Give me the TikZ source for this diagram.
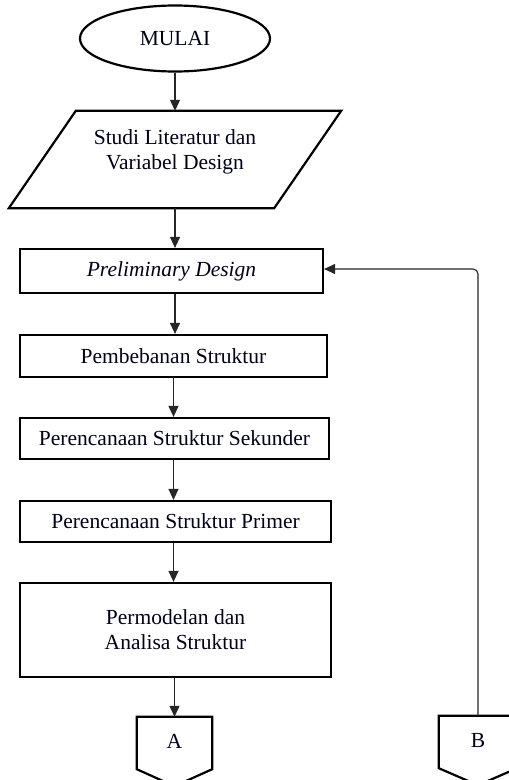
\documentclass[tikz,border=0pt]{standalone}
\usepackage{fontspec}
\setmainfont{Liberation Serif}
\usetikzlibrary{shapes.geometric,arrows.meta,calc}
\begin{document}
\begin{tikzpicture}[x=1pt,y=-1pt,
  txt/.style={font=\fontsize{21.5}{25}\selectfont, text=black!90!blue, align=center},
  shapeline/.style={draw=black, line width=2.2pt},
  procbox/.style={txt, shapeline, rectangle, inner sep=0pt},
  arr/.style={draw=black!85, line width=1.1pt, -{Triangle[length=11pt,width=10pt]}},
  connbody/.style={txt, rectangle, inner sep=0pt, minimum width=76pt, minimum height=52pt}]
\clip (0,0) rectangle (509,780);
\useasboundingbox (0,0) rectangle (509,780);
\fill[white] (0,0) rectangle (509,780);

\node[txt, shapeline, ellipse, minimum width=190pt, minimum height=66pt, inner sep=0pt] (start) at (175,38.5) {MULAI};
\node[rectangle, inner sep=0pt, minimum width=265pt, minimum height=97pt] (lit) at (175,159.5) {};
\draw[shapeline] ($(lit.north west)+(33.5,0)$) -- ($(lit.north east)+(33.5,0)$)
   -- ($(lit.south east)+(-33.5,0)$) -- ($(lit.south west)+(-33.5,0)$) -- cycle;
\node[txt] (littext) at (175,152) {Studi Literatur dan\\Variabel Design};
\node[procbox, minimum width=303pt, minimum height=44pt] (pre) at (171.5,271) {\itshape Preliminary Design};
\node[procbox, minimum width=307pt, minimum height=42pt] (beban) at (173.5,356) {Pembebanan Struktur};
\node[procbox, minimum width=309pt, minimum height=41pt] (sek) at (174.5,438.5) {Perencanaan Struktur Sekunder};
\node[procbox, minimum width=311pt, minimum height=41pt] (prim) at (175.5,521.5) {Perencanaan Struktur Primer};
\node[procbox, minimum width=311pt, minimum height=94pt] (model) at (175.5,630) {Permodelan dan\\Analisa Struktur};

\node[connbody, minimum width=75pt] (A) at (174.5,743) {\raisebox{4pt}{A}};
\draw[shapeline] (A.north west) -- (A.north east) -- (A.south east) -- ($(A.south)+(0,17)$) -- (A.south west) -- cycle;
\node[connbody, minimum width=78pt] (B) at (478,742) {\raisebox{4pt}{B}};
\draw[shapeline] (B.north west) -- (B.north east) -- (B.south east) -- ($(B.south)+(0,17)$) -- (B.south west) -- cycle;

\draw[arr] (start.south) -- (start.south |- lit.north);
\draw[arr] (start.south |- lit.south) -- (start.south |- pre.north);
\draw[arr] (start.south |- pre.south) -- (start.south |- beban.north);
\draw[arr] (beban.south) -- (beban.south |- sek.north);
\draw[arr] (beban.south |- sek.south) -- (beban.south |- prim.north);
\draw[arr] (beban.south |- prim.south) -- (beban.south |- model.north);
\draw[arr] (A.north |- model.south) -- (A.north);
\draw[arr, rounded corners=5pt] (B.north) |- ($(pre.east)+(0,-2)$);
\end{tikzpicture}
\end{document}
